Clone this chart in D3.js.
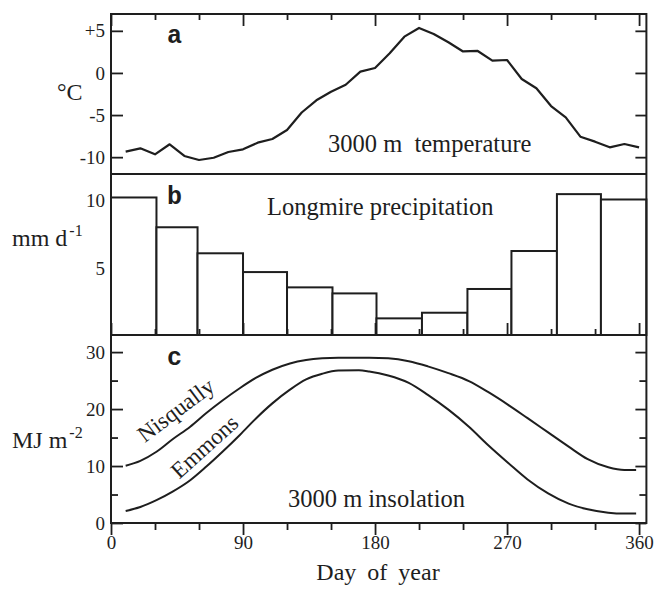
<!DOCTYPE html>
<html>
<head>
<meta charset="utf-8">
<script src="https://cdn.jsdelivr.net/npm/d3@7"></script>
<style>
  body { margin: 0; background: #fff; }
</style>
</head>
<body>
<svg id="chart" width="656" height="590"></svg>
<script>
// panel a: 3000 m temperature, every 10 days
var tempDays = [10, 20, 30, 40, 50, 60, 70, 80, 90, 100, 110, 120, 130, 140, 150, 160, 170, 180,
                190, 200, 210, 220, 230, 240, 250, 260, 270, 280, 290, 300, 310, 320, 330, 340, 350, 360];
var tempValues = [-9.35, -8.95, -9.66, -8.47, -9.86, -10.34, -10.07, -9.39, -9.07, -8.28, -7.84, -6.78,
                  -4.7, -3.25, -2.23, -1.4, 0.15, 0.59, 2.33, 4.31, 5.34, 4.62, 3.64, 2.55,
                  2.61, 1.46, 1.54, -0.72, -1.82, -3.93, -5.27, -7.57, -8.16, -8.83, -8.44, -8.83];

// panel b: Longmire monthly precipitation (mm/d)
var monthEdges = [0, 31, 59, 90, 120, 151, 181, 212, 243, 273, 304, 334, 365];
var precipValues = [10.25, 8.03, 6.09, 4.69, 3.55, 3.1, 1.24, 1.66, 3.43, 6.26, 10.5, 10.1];

// panel c: 3000 m insolation (MJ/m2)
var insolDays = [10, 20, 31, 42, 54, 65, 76, 88, 99, 110, 122, 133, 144, 155, 169, 176, 189, 203,
                 216, 230, 244, 257, 271, 284, 298, 312, 325, 339, 350, 358];
var nisquallyValues = [10.05, 10.9, 12.5, 14.7, 16.9, 19.3, 21.5, 23.7, 25.5, 26.9, 28.0, 28.6, 28.9, 29.0,
                       29.0, 29.0, 28.9, 28.4, 27.5, 26.3, 24.9, 23.0, 20.7, 18.4, 15.9, 13.4, 11.2, 9.77, 9.3, 9.3];
var emmonsValues = [2.1, 2.8, 4.0, 5.5, 7.5, 9.9, 12.5, 15.5, 18.4, 21.0, 23.4, 25.2, 26.2, 26.75,
                    26.8, 26.6, 25.9, 24.6, 22.5, 19.9, 16.9, 13.7, 10.5, 7.65, 5.2, 3.4, 2.4, 1.8, 1.65, 1.65];

// ticks
var dayMajor = [0, 90, 180, 270, 360];
var dayMinor = [30, 60, 120, 150, 210, 240, 300, 330];
var tempTicks = [5, 0, -5, -10];
var tempTickLabels = ["+5", "0", "-5", "-10"];
var precipTicks = [10, 5];
var insolMajor = [0, 10, 20, 30];
var insolMinor = [5, 15, 25];

var serif = "Liberation Serif";
var ink = "#1e1e1e";

var svg = d3.select("#chart").attr("font-family", serif);

var x = d3.scaleLinear().domain([0, 365]).range([111, 646.4]);
var yA = d3.scaleLinear().domain([-12, 7]).range([174, 14]);
var yB = d3.scaleLinear().domain([0, 12]).range([335, 174]);
var yC = d3.scaleLinear().domain([0, 33]).range([523, 335]);

var left = x(0), right = x(365);

function addAxis(axis, tx, ty, labels) {
  var g = svg.append("g")
    .attr("transform", "translate(" + tx + "," + ty + ")")
    .call(axis)
    .attr("font-family", serif)
    .attr("font-size", 19);
  g.select(".domain").remove();
  g.selectAll(".tick line").attr("stroke", ink).attr("stroke-width", 1.8);
  g.selectAll(".tick text").attr("fill", ink);
  if (!labels) g.selectAll("text").remove();
  return g;
}

function label(xp, yp, str, size) {
  return svg.append("text")
    .attr("x", xp).attr("y", yp)
    .attr("font-family", serif)
    .attr("font-size", size)
    .attr("fill", ink)
    .text(str);
}

// ---- panel a ----
var tempFmt = function (d) { return tempTickLabels[tempTicks.indexOf(d)]; };
addAxis(d3.axisLeft(yA).tickValues(tempTicks).tickSize(-12).tickPadding(6).tickFormat(tempFmt), left, 0, true);
addAxis(d3.axisRight(yA).tickValues(tempTicks).tickSize(-11), right, 0, false);
addAxis(d3.axisTop(x).tickValues(dayMajor).tickSize(-12), 0, yA.range()[1], false);
addAxis(d3.axisTop(x).tickValues(dayMinor).tickSize(-6), 0, yA.range()[1], false);

var tempLine = d3.line()
  .x(function (d, i) { return x(tempDays[i]); })
  .y(function (d) { return yA(d); });
svg.append("path")
  .datum(tempValues)
  .attr("d", tempLine)
  .attr("fill", "none")
  .attr("stroke", ink)
  .attr("stroke-width", 2.2)
  .attr("stroke-linejoin", "round");

// ---- panel b ----
addAxis(d3.axisLeft(yB).tickValues(precipTicks).tickSize(-12).tickPadding(6), left, 0, true);
addAxis(d3.axisRight(yB).tickValues(precipTicks).tickSize(-11), right, 0, false);

svg.append("g").selectAll("rect")
  .data(precipValues)
  .enter().append("rect")
  .attr("x", function (d, i) { return x(monthEdges[i]); })
  .attr("width", function (d, i) { return x(monthEdges[i + 1]) - x(monthEdges[i]); })
  .attr("y", function (d) { return yB(d); })
  .attr("height", function (d) { return yB(0) - yB(d); })
  .attr("fill", "#fff")
  .attr("stroke", ink)
  .attr("stroke-width", 2);

addAxis(d3.axisBottom(x).tickValues(dayMajor).tickSize(-12), 0, yB.range()[0], false);
addAxis(d3.axisBottom(x).tickValues(dayMinor).tickSize(-6), 0, yB.range()[0], false);

// ---- panel c ----
addAxis(d3.axisLeft(yC).tickValues(insolMajor).tickSize(-12).tickPadding(6), left, 0, true);
addAxis(d3.axisLeft(yC).tickValues(insolMinor).tickSize(-7), left, 0, false);
addAxis(d3.axisRight(yC).tickValues(insolMajor).tickSize(-11), right, 0, false);
addAxis(d3.axisRight(yC).tickValues(insolMinor).tickSize(-7), right, 0, false);
addAxis(d3.axisBottom(x).tickValues(dayMajor).tickSize(12).tickPadding(1), 0, yC.range()[0], true);
addAxis(d3.axisBottom(x).tickValues(dayMinor).tickSize(7), 0, yC.range()[0], false);

var insolLine = function (vals) {
  return d3.line()
    .curve(d3.curveMonotoneX)
    .x(function (d, i) { return x(insolDays[i]); })
    .y(function (d) { return yC(d); })(vals);
};
[nisquallyValues, emmonsValues].forEach(function (vals) {
  svg.append("path")
    .attr("d", insolLine(vals))
    .attr("fill", "none")
    .attr("stroke", ink)
    .attr("stroke-width", 2);
});

// curve labels
label(0, 0, "Nisqually", 23)
  .attr("x", null).attr("y", null)
  .attr("transform", "translate(" + x(23) + "," + yC(14) + ") rotate(-37)");
label(0, 0, "Emmons", 23)
  .attr("x", null).attr("y", null)
  .attr("transform", "translate(" + x(46.5) + "," + yC(7.6) + ") rotate(-42)");

// ---- frames ----
svg.append("rect")
  .attr("x", left).attr("y", yA.range()[1])
  .attr("width", right - left).attr("height", yC.range()[0] - yA.range()[1])
  .attr("fill", "none").attr("stroke", ink).attr("stroke-width", 2);
[yA.range()[0], yB.range()[0]].forEach(function (yy) {
  svg.append("line")
    .attr("x1", left).attr("x2", right).attr("y1", yy).attr("y2", yy)
    .attr("stroke", ink).attr("stroke-width", 2);
});

// ---- panel letters and titles ----
[["a", 43], ["b", 204], ["c", 365]].forEach(function (p) {
  svg.append("text")
    .attr("x", 167).attr("y", p[1])
    .attr("font-family", "Liberation Mono")
    .attr("font-weight", "bold")
    .attr("font-size", 25)
    .attr("fill", ink)
    .text(p[0]);
});

label(328, 152, "3000 m  temperature", 24.5).attr("xml:space", "preserve").style("white-space", "pre");
label(267, 215, "Longmire precipitation", 24.5);
label(288, 507, "3000 m insolation", 24.5);

// ---- axis titles ----
label(57, 100, "°C", 24);

var t1 = label(12, 246, "", 24);
t1.append("tspan").text("mm d");
t1.append("tspan").attr("dy", -10).attr("dx", 2).attr("font-size", 16).text("-1");

var t2 = label(12, 448, "", 24);
t2.append("tspan").text("MJ m");
t2.append("tspan").attr("dy", -10).attr("dx", 2).attr("font-size", 16).text("-2");

label(378, 580, "Day of year", 24)
  .attr("text-anchor", "middle")
  .style("word-spacing", "5px");
</script>
</body>
</html>
